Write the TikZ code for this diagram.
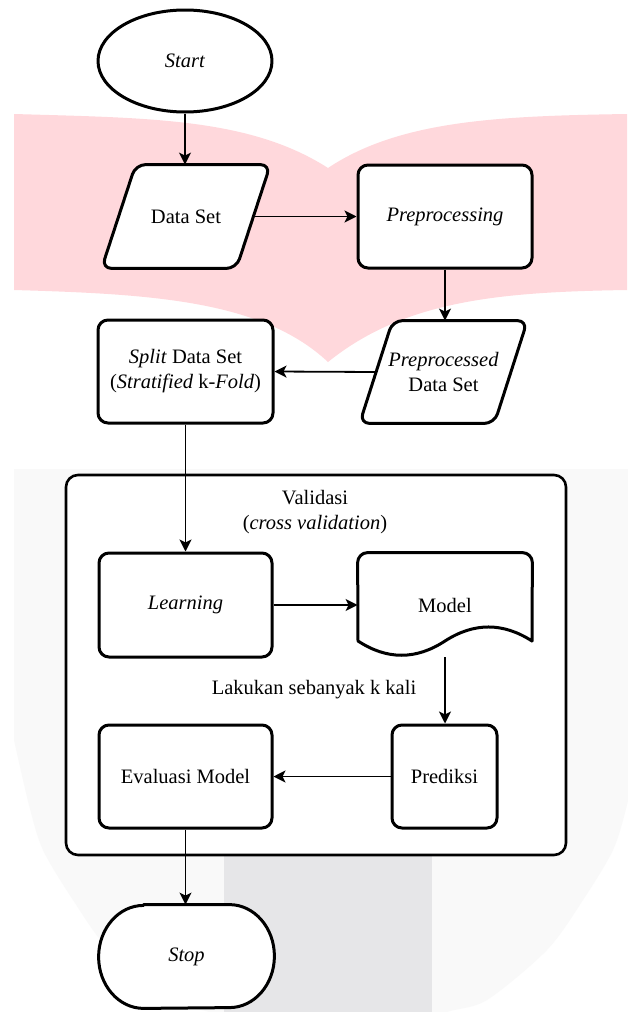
\documentclass[tikz,border=0pt]{standalone}
\usepackage{fontspec}
\setmainfont{Liberation Serif}
\usetikzlibrary{arrows.meta,shapes.geometric}
\definecolor{pinkwm}{RGB}{255,216,220}
\definecolor{graylt}{RGB}{249,249,249}
\definecolor{graydk}{RGB}{230,230,232}
\pgfdeclarelayer{wm}
\pgfdeclarelayer{shp}
\pgfsetlayers{wm,shp,main}
\begin{document}
\begin{tikzpicture}[x=0.5pt,y=-0.5pt,
  every node/.style={font=\fontsize{10.25}{12.5}\selectfont, align=center, inner sep=0pt},
  boxline/.style={draw=black, line width=1.5pt, fill=white, line join=round},
  rbox/.style={boxline, rectangle, rounded corners=5pt},
  ghost/.style={rectangle, draw=none},
  arr/.style={draw=black, line width=0.9pt, -{Stealth[length=6pt,width=6pt,inset=1.5pt]}},
]
\useasboundingbox (0,0) rectangle (627,1012);
\begin{pgfonlayer}{wm}
\fill[white] (0,0) rectangle (627,1012);
% pink watermark
\fill[pinkwm] (14,114) .. controls (150,118) and (250,118) .. (328,168)
  .. controls (400,120) and (500,116) .. (627,114) -- (627,290)
  .. controls (500,292) and (405,300) .. (328,362)
  .. controls (262,300) and (150,294) .. (14,290) -- cycle;
% grey shield
\fill[graylt] (14,469) -- (642,469) --
  plot[smooth] coordinates {(642,740) (627,805) (613,850) (583,900) (547,950) (487,1000) (447,1012) (400,1030)}
  -- plot[smooth] coordinates {(256,1030) (209,1012) (169,1000) (109,950) (73,900) (43,850) (29,805) (14,740)}
  -- cycle;
\fill[graydk] (224,856) rectangle (432,1012);
\end{pgfonlayer}

\begin{pgfonlayer}{shp}
\node[boxline, rectangle, rounded corners=6pt, line width=1.3pt, minimum width=250pt, minimum height=190pt] (valid) at (316,665) {};
\end{pgfonlayer}

% nodes
\node[boxline, ellipse, minimum width=87pt, minimum height=51pt] (start) at (185,61) {\textit{Start}};
\node[ghost, minimum width=84pt, minimum height=51.5pt] (data) at (186,216.5) {Data Set};
\node[rbox, minimum width=87pt, minimum height=51.5pt] (prep) at (445,216.5) {\textit{Preprocessing}};
\node[ghost, minimum width=83.5pt, minimum height=51pt] (ppd) at (443.5,372) {\textit{Preprocessed}\\Data Set};
\node[rbox, minimum width=87.5pt, minimum height=51.5pt] (split) at (185.5,371.5) {\textit{Split} Data Set\\(\textit{Stratified} k-\textit{Fold})};
\node (vtitle) at (315,512) {Validasi\\(\textit{cross validation})};
\node[rbox, minimum width=86.5pt, minimum height=52pt] (learn) at (185.5,605) {\textit{Learning}};
\node[ghost, minimum width=87pt, minimum height=52pt] (model) at (445,605) {Model};
\node (loop) at (314,690) {Lakukan sebanyak k kali};
\node[rbox, minimum width=52.5pt, minimum height=51.5pt] (pred) at (444.5,776.5) {Prediksi};
\node[rbox, minimum width=86.5pt, minimum height=51.5pt] (eval) at (185.5,776.5) {Evaluasi Model};
\node[ghost, minimum width=87.5pt, minimum height=51.5pt] (stop) at (186.5,956.5) {\textit{Stop}};

% custom outlines
\begin{pgfonlayer}{shp}
\draw[boxline, rounded corners=5pt] ([xshift=17pt]data.north west) -- (data.north east) -- ([xshift=-17pt]data.south east) -- (data.south west) -- cycle;
\draw[boxline, rounded corners=5pt] ([xshift=16.5pt]ppd.north west) -- (ppd.north east) -- ([xshift=-16.5pt]ppd.south east) -- (ppd.south west) -- cycle;
\draw[boxline, line cap=round] (532,641) .. controls (503,622.3) and (474,622.3) .. (445,641)
  .. controls (416,660) and (387,660) .. (358,641)
  [rounded corners=5pt] -- (model.north west) -- (model.north east) -- (532,641);
\draw[boxline] ([xshift=22.5pt]stop.north west) -- ([xshift=-22.5pt]stop.north east)
  arc[start angle=90, end angle=-90, x radius=22.5pt, y radius=25.75pt]
  -- ([xshift=22.5pt]stop.south west)
  arc[start angle=270, end angle=90, x radius=22.5pt, y radius=25.75pt] -- cycle;
\end{pgfonlayer}

% connectors
\draw[arr] (start.south) -- (start.south |- data.north);
\draw[arr] ([xshift=-8.5pt]data.east) -- (prep.west);
\draw[arr] (prep.south) -- (prep.south |- ppd.north);
\draw[arr] ([xshift=8.25pt]ppd.west) -- (split.east);
\draw[arr] (split.south) -- (split.south |- learn.north);
\draw[arr] (learn.east) -- (model.west);
\draw[arr] (model.south) -- (model.south |- pred.north);
\draw[arr] (pred.west) -- (eval.east);
\draw[arr] (eval.south) -- (eval.south |- stop.north);
\end{tikzpicture}
\end{document}
